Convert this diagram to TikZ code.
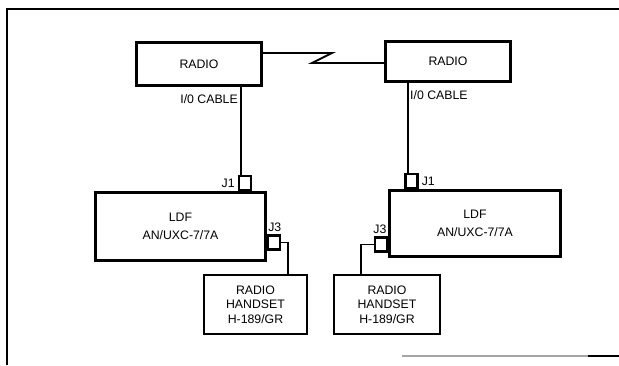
\documentclass[tikz,border=0pt]{standalone}
\usepackage{fontspec}
\setmainfont{Liberation Sans}
\definecolor{scangray}{RGB}{165,165,165}
\tikzset{
 unitbox/.style={draw,line width=2.3pt,inner sep=0pt,align=center,
   font=\fontsize{10.5}{15}\selectfont},
 handbox/.style={unitbox,line width=1.9pt,font=\fontsize{10.5}{12.5}\selectfont},
 jack/.style={draw,line width=2.1pt,minimum width=0.35cm,minimum height=0.41cm,inner sep=0pt},
 wire/.style={line width=1.6pt},
 tag/.style={inner sep=0pt,font=\fontsize{10.5}{12}\selectfont},
}

\begin{document}
\begin{tikzpicture}[x=0.03cm,y=-0.03cm]
 \useasboundingbox (0,0) rectangle (619,365);
 % frame
 \draw[line width=2.4pt] (619,9) -- (7,9) -- (7,365);
 \draw[scangray,line width=0.9pt] (402,356) -- (619,356);
 \draw[line width=1.8pt] (588,356) -- (619,356);
 % units
 \node[unitbox,minimum width=3.76cm,minimum height=1.3cm] (radioA) at (199,64) {RADIO};
 \node[unitbox,minimum width=3.76cm,minimum height=1.21cm] (radioB) at (448,61.5) {RADIO};
 \node[unitbox,minimum width=5.11cm,minimum height=2.05cm] (ldfA) at (180.5,226.5)
   {LDF\\AN/UXC-7/7A};
 \node[unitbox,minimum width=5.14cm,minimum height=1.99cm] (ldfB) at (475,223.5)
   {LDF\\AN/UXC-7/7A};
 \node[handbox,minimum width=3.08cm,minimum height=1.76cm] (handA) at (255.5,304.5)
   {RADIO\\HANDSET\\H-189/GR};
 \node[handbox,minimum width=3.17cm,minimum height=1.76cm] (handB) at (387,304.5)
   {RADIO\\HANDSET\\H-189/GR};
 % jacks
 \node[jack,anchor=south] (jOneA) at (ldfA.north -| 245,0) {};
 \node[jack,anchor=south] (jOneB) at (ldfB.north -| 411.5,0) {};
 \node[jack,anchor=west] (jThreeA) at (ldfA.east |- 0,242.5) {};
 \node[jack,anchor=east] (jThreeB) at (ldfB.west |- 0,244.5) {};
 \node[tag,anchor=south east] (tOneA) at ([shift={(-3,-3)}]jOneA.south west) {J1};
 \node[tag,anchor=south west] (tOneB) at ([shift={(3,-3)}]jOneB.south east) {J1};
 \node[tag,anchor=south west] (tThreeA) at ([shift={(1,-3)}]jThreeA.north west) {J3};
 \node[tag,anchor=south] (tThreeB) at ([shift={(-1,-3)}]jThreeB.north) {J3};
 % cables
 \draw[wire] (radioA.east |- 0,53) -- (332,53) -- (312,63) -- (radioB.west |- 0,63);
 \draw[wire] (radioA.south -| 241,0) -- (jOneA.north -| 241,0);
 \draw[wire] (radioB.south -| 408,0) -- (jOneB.north -| 408,0);
 \draw[wire] (jThreeA.east) -| (handA.north -| 288,0);
 \draw[wire] (jThreeB.west) -| (handB.north -| 361,0);
 \node[tag,anchor=north east] (cableA) at ([shift={(-3,7)}]radioA.south -| 241,0) {I/0 CABLE};
 \node[tag,anchor=north west] (cableB) at ([shift={(2,7)}]radioB.south -| 408,0) {I/0 CABLE};
\end{tikzpicture}
\end{document}
